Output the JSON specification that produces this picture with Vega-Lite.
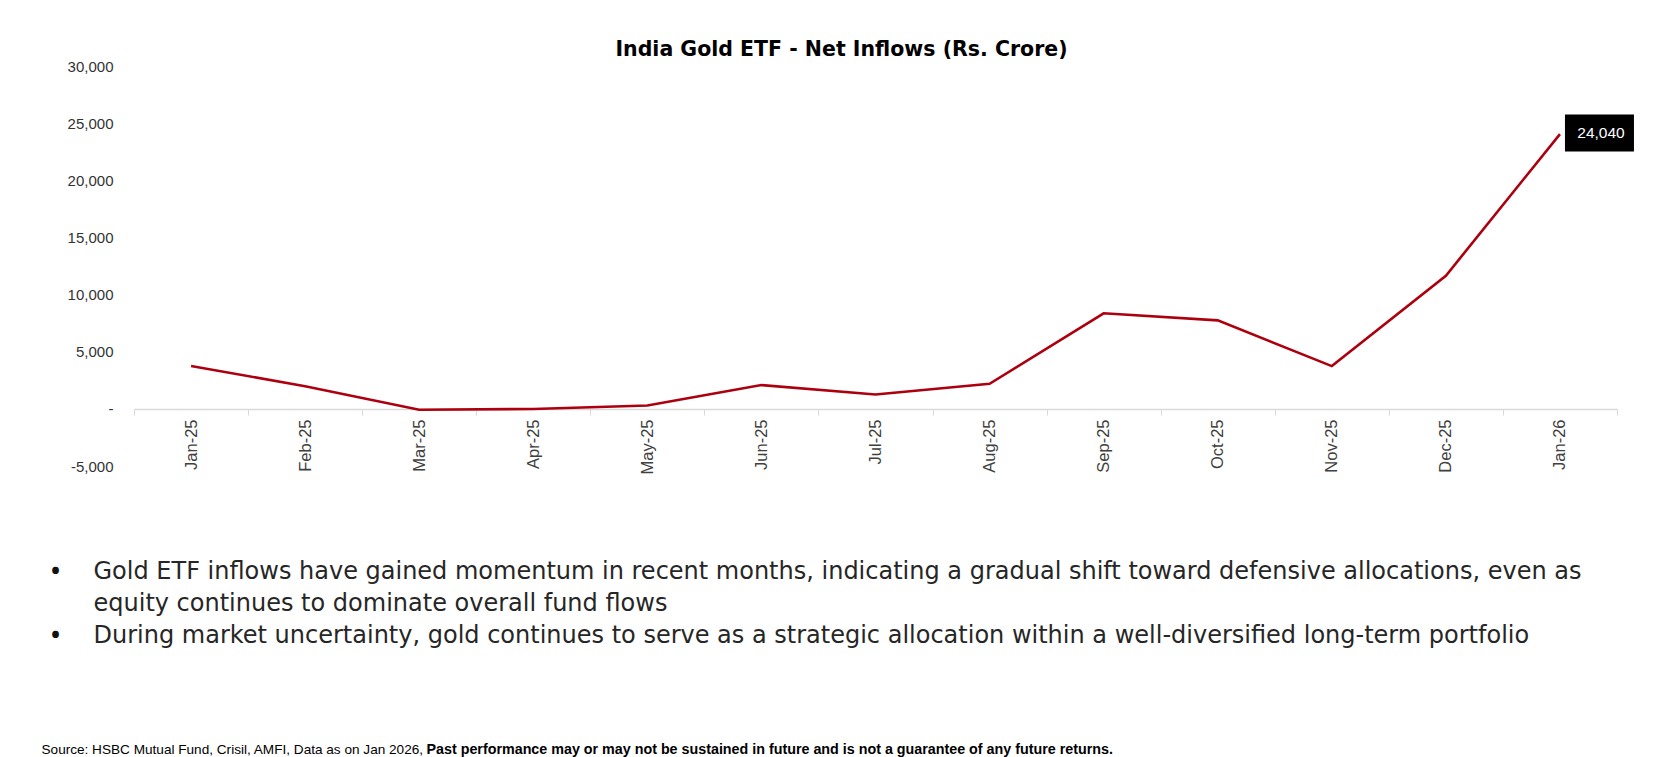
{
  "$schema": "https://vega.github.io/schema/vega-lite/v6.json",
  "width": 1483,
  "height": 400,
  "autosize": {"type": "none"},
  "padding": {"left": 134, "top": 66, "right": 60, "bottom": 291},
  "background": "white",
  "config": {"view": {"stroke": null}, "font": "Liberation Sans"},
  "title": {
    "text": "India Gold ETF - Net Inflows (Rs. Crore)",
    "font": "DejaVu Sans",
    "fontSize": 20.5,
    "fontWeight": "bold",
    "color": "#000000",
    "anchor": "middle",
    "dx": -34,
    "offset": -1
  },
  "data": {
    "values": [
      {"month": "Jan-25", "value": 3751},
      {"month": "Feb-25", "value": 1980},
      {"month": "Mar-25", "value": -77},
      {"month": "Apr-25", "value": -6},
      {"month": "May-25", "value": 292},
      {"month": "Jun-25", "value": 2081},
      {"month": "Jul-25", "value": 1256},
      {"month": "Aug-25", "value": 2190},
      {"month": "Sep-25", "value": 8363},
      {"month": "Oct-25", "value": 7743},
      {"month": "Nov-25", "value": 3742},
      {"month": "Dec-25", "value": 11647},
      {"month": "Jan-26", "value": 24040}
    ]
  },
  "layer": [
    {
      "mark": {"type": "line", "color": "#AD000E", "strokeWidth": 2.6},
      "encoding": {
        "x": {
          "field": "month",
          "type": "ordinal",
          "sort": null,
          "scale": {
            "type": "band",
            "domain": ["Jan-25", "Feb-25", "Mar-25", "Apr-25", "May-25", "Jun-25", "Jul-25", "Aug-25", "Sep-25", "Oct-25", "Nov-25", "Dec-25", "Jan-26"],
            "paddingInner": 0,
            "paddingOuter": 0
          },
          "axis": {
            "orient": "bottom",
            "offset": -57,
            "labelAngle": -90,
            "labelAlign": "right",
            "labelBaseline": "middle",
            "labelFontSize": 16.5,
            "labelColor": "#404040",
            "labelFont": "Liberation Sans",
            "labelPadding": 4,
            "tickSize": 6,
            "tickColor": "#D9D9D9",
            "tickBand": "extent",
            "domainColor": "#D9D9D9",
            "domainWidth": 1.3,
            "grid": false,
            "title": [
              "Gold ETF inflows have gained momentum in recent months, indicating a gradual shift toward defensive allocations, even as",
              "equity continues to dominate overall fund flows",
              "During market uncertainty, gold continues to serve as a strategic allocation within a well-diversified long-term portfolio"
            ],
            "titleX": -41,
            "titleY": 169,
            "titleAngle": 0,
            "titleAlign": "left",
            "titleBaseline": "alphabetic",
            "titleFont": "DejaVu Sans",
            "titleFontSize": 24,
            "titleFontWeight": "normal",
            "titleLineHeight": 32,
            "titleColor": "#262626"
          }
        },
        "y": {
          "field": "value",
          "type": "quantitative",
          "scale": {"domain": [-5000, 30000], "nice": false, "zero": false},
          "axis": {
            "values": [-5000, 0, 5000, 10000, 15000, 20000, 25000, 30000],
            "labelExpr": "datum.value == 0 ? '-\u00a0\u00a0' : (datum.value < 0 ? '-' + format(-datum.value, ',') : format(datum.value, ','))",
            "domain": false,
            "ticks": false,
            "grid": false,
            "labelPadding": 21,
            "labelFontSize": 15,
            "labelColor": "#333333",
            "labelFont": "Liberation Sans",
            "title": ["•", "•"],
            "titleX": -79,
            "titleY": 512,
            "titleAngle": 0,
            "titleAlign": "center",
            "titleBaseline": "alphabetic",
            "titleFont": "Open Sans",
            "titleFontSize": 24,
            "titleFontWeight": "bold",
            "titleLineHeight": 64,
            "titleColor": "#111111"
          }
        }
      }
    },
    {
      "transform": [{"filter": "datum.month == 'Jan-26'"}],
      "encoding": {
        "x": {
          "field": "month",
          "type": "ordinal",
          "sort": null,
          "scale": {
            "type": "band",
            "domain": ["Jan-25", "Feb-25", "Mar-25", "Apr-25", "May-25", "Jun-25", "Jul-25", "Aug-25", "Sep-25", "Oct-25", "Nov-25", "Dec-25", "Jan-26"],
            "paddingInner": 0,
            "paddingOuter": 0
          },
          "axis": {
            "orient": "top",
            "labels": false,
            "ticks": false,
            "domain": false,
            "grid": false,
            "title": "Source: HSBC Mutual Fund, Crisil, AMFI, Data as on Jan 2026,",
            "titleX": -93,
            "titleY": 687,
            "titleAngle": 0,
            "titleAlign": "left",
            "titleBaseline": "alphabetic",
            "titleFont": "Liberation Sans",
            "titleFontSize": 13.6,
            "titleFontWeight": "normal",
            "titleColor": "#000000"
          }
        },
        "y": {
          "field": "value",
          "type": "quantitative",
          "scale": {"domain": [-5000, 30000], "nice": false, "zero": false},
          "axis": {
            "orient": "right",
            "labels": false,
            "ticks": false,
            "domain": false,
            "grid": false,
            "title": "Past performance may or may not be sustained in future and is not a guarantee of any future returns.",
            "titleX": -1191,
            "titleY": 687,
            "titleAngle": 0,
            "titleAlign": "left",
            "titleBaseline": "alphabetic",
            "titleFont": "Liberation Sans",
            "titleFontSize": 14.3,
            "titleFontWeight": "bold",
            "titleColor": "#000000"
          }
        }
      },
      "layer": [
        {
          "mark": {"type": "tick", "color": "#000000", "size": 69, "thickness": 37, "xOffset": 39.5, "yOffset": -1, "opacity": 1}
        },
        {
          "mark": {"type": "text", "color": "#FFFFFF", "fontSize": 15.5, "font": "Liberation Sans", "align": "center", "baseline": "middle", "dx": 41, "dy": -1},
          "encoding": {"text": {"field": "value", "type": "quantitative", "format": ","}}
        }
      ]
    }
  ],
  "resolve": {"scale": {"x": "independent", "y": "independent"}}
}
